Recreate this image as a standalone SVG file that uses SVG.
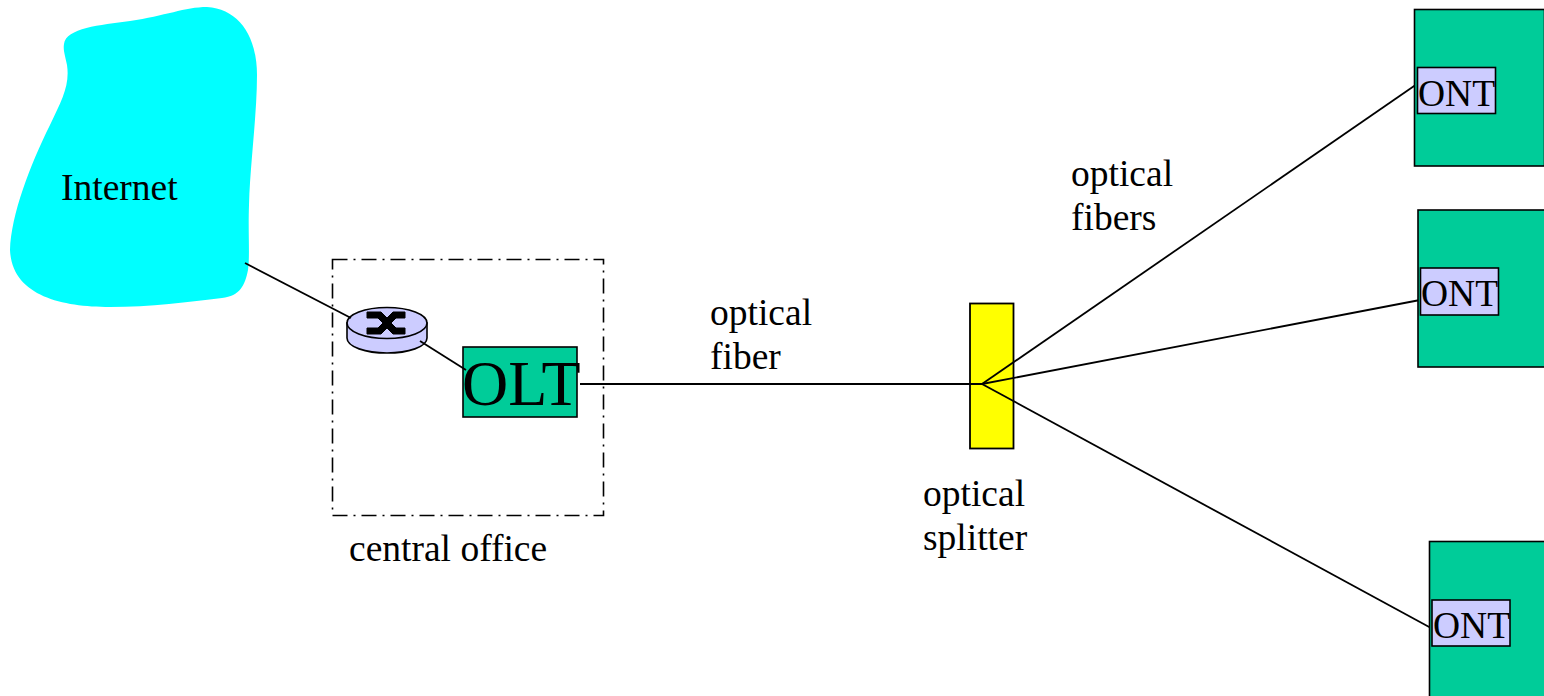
<svg xmlns="http://www.w3.org/2000/svg" width="1544" height="696" viewBox="0 0 1544 696">
<style>
text{font-family:"Liberation Serif","Times New Roman",serif;font-size:37.5px;fill:#000}
.g{fill:#00cc99;stroke:#000;stroke-width:1.6}
.p{fill:#ccccff;stroke:#000;stroke-width:1.6}
.l{fill:none;stroke:#000;stroke-width:1.8}
</style>
<rect width="1544" height="696" fill="#fff"/>
<g id="internet">
<path d="M64 44C66 28 100 25 130 21C165 16 185 7 207 7C238 9 257 35 257 75C257 115 250 165 249 205C248 235 250 255 248 270C245 285 240 296 222 298C190 302 150 307 110 307C60 307 12 295 10 250C11 215 30 165 50 125C62 100 70 85 67 65C65 55 63 50 64 44Z" fill="#00ffff"/>
<text x="61" y="200">Internet</text>
</g>
<g id="central-office">
<rect x="332.500" y="259.500" width="271" height="256" fill="none" stroke="#000" stroke-width="1.600" stroke-dasharray="15 6 2 6"/>
<text x="349" y="561">central office</text>
</g>
<g id="router">
<path class="p" d="M347 323V338C347 347 366 353 387 353C408 353 427 347 427 338V323Z"/>
<ellipse class="p" cx="387" cy="323" rx="40" ry="15.500"/>
<path d="M367 312H381L387 318L393 312H405V318H396L391 323L396 328H405V334H393L387 328L381 334H367V328H378L383 323L378 318H367Z" fill="#000" stroke="#000"/>
</g>
<g id="olt">
<rect class="g" x="463" y="347" width="114" height="70"/>
<text x="462" y="405" style="font-size:64px">OLT</text>
</g>
<g id="splitter">
<rect x="970" y="303.500" width="43.500" height="145" fill="#ffff00" stroke="#000" stroke-width="1.800"/>
</g>
<g id="connectors">
<line class="l" x1="245" y1="263" x2="351" y2="318"/>
<line class="l" x1="420" y1="341" x2="466" y2="370"/>
<line class="l" x1="580" y1="384" x2="982" y2="384"/>
<line class="l" x1="982" y1="384" x2="1417" y2="84"/>
<line class="l" x1="982" y1="384" x2="1420" y2="300"/>
<line class="l" x1="982" y1="384" x2="1431" y2="628"/>
</g>
<g id="ont1"><rect class="g" x="1414.500" y="9.500" width="130" height="156.500"/><rect class="p" x="1417.500" y="67.500" width="78" height="46"/><text x="1418" y="106">ONT</text></g>
<g id="ont2"><rect class="g" x="1418" y="210" width="127" height="157"/><rect class="p" x="1420.500" y="268" width="78" height="47"/><text x="1421" y="306">ONT</text></g>
<g id="ont3"><rect class="g" x="1429.500" y="541.500" width="116" height="156"/><rect class="p" x="1432" y="600" width="78" height="46"/><text x="1433" y="638">ONT</text></g>
<g id="labels">
<text x="710" y="325">optical</text><text x="710" y="369">fiber</text>
<text x="923" y="506">optical</text><text x="923" y="550">splitter</text>
<text x="1071" y="186">optical</text><text x="1071" y="230">fibers</text>
</g>
</svg>
